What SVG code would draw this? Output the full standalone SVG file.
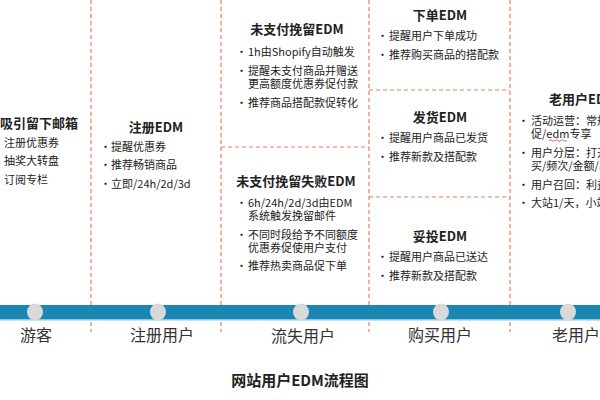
<svg xmlns="http://www.w3.org/2000/svg" width="600" height="400" viewBox="0 0 600 400">
<style>
text{font-family:"Noto Sans CJK SC","Noto Sans",sans-serif;fill:#222}
.h{font-size:13px;font-weight:bold;text-anchor:middle}
.t{font-size:11px}
.lab{font-size:16px;text-anchor:middle;fill:#333}
.d{stroke:#ee7c5e;stroke-width:1.2;stroke-dasharray:4 3;fill:none}
.dot{fill:#d9d9d9}
</style>
<rect width="600" height="400" fill="#fff"/>
<g id="connectors">
<line class="d" x1="91" y1="0" x2="91" y2="332"/>
<line class="d" x1="221" y1="0" x2="221" y2="332"/>
<line class="d" x1="369" y1="0" x2="369" y2="332"/>
<line class="d" x1="510" y1="0" x2="510" y2="332"/>
<line class="d" x1="221" y1="147" x2="369" y2="147"/>
<line class="d" x1="369" y1="90" x2="510" y2="90"/>
<line class="d" x1="369" y1="197" x2="510" y2="197"/>
</g>
<g id="timeline">
<rect x="0" y="305" width="600" height="15" fill="#1b86b1"/>
<rect x="0" y="319" width="600" height="1.5" fill="#8cc8e0"/>
<ellipse class="dot" cx="35" cy="312" rx="8" ry="8.5"/>
<ellipse class="dot" cx="158" cy="312" rx="8" ry="8.5"/>
<ellipse class="dot" cx="301" cy="312" rx="8" ry="8.5"/>
<ellipse class="dot" cx="441" cy="312" rx="8" ry="8.5"/>
<ellipse class="dot" cx="568" cy="312" rx="8" ry="8.5"/>
</g>
<g id="labels">
<text class="lab" x="36" y="341">游客</text>
<text class="lab" x="162" y="341">注册用户</text>
<text class="lab" x="303" y="342">流失用户</text>
<text class="lab" x="440" y="341">购买用户</text>
<text class="lab" x="576" y="341">老用户</text>
</g>
<g id="visitor">
<text class="h" x="39" y="128">吸引留下邮箱</text>
<text class="t" x="4" y="147">注册优惠券</text>
<text class="t" x="4" y="165">抽奖大转盘</text>
<text class="t" x="4" y="184">订阅专栏</text>
</g>
<g id="register-edm">
<text class="h" x="156" y="132">注册EDM</text>
<text class="t" x="100" y="151">•</text><text class="t" x="111" y="151">提醒优惠券</text>
<text class="t" x="100" y="169">•</text><text class="t" x="111" y="169">推荐畅销商品</text>
<text class="t" x="100" y="188">•</text><text class="t" x="111" y="188">立即/24h/2d/3d</text>
</g>
<g id="unpaid-edm">
<text class="h" x="297" y="34">未支付挽留EDM</text>
<text class="t" x="236" y="56">•</text><text class="t" x="248" y="56">1h由Shopify自动触发</text>
<text class="t" x="236" y="75">•</text><text class="t" x="248" y="75">提醒未支付商品并赠送</text>
<text class="t" x="248" y="88">更高额度优惠券促付款</text>
<text class="t" x="236" y="107">•</text><text class="t" x="248" y="107">推荐商品搭配款促转化</text>
</g>
<g id="unpaid-fail-edm">
<text class="h" x="296" y="186">未支付挽留失败EDM</text>
<text class="t" x="236" y="207">•</text><text class="t" x="248" y="207">6h/24h/2d/3d由EDM</text>
<text class="t" x="248" y="220">系统触发挽留邮件</text>
<text class="t" x="236" y="239">•</text><text class="t" x="248" y="239">不同时段给予不同额度</text>
<text class="t" x="248" y="252">优惠券促使用户支付</text>
<text class="t" x="236" y="270">•</text><text class="t" x="248" y="270">推荐热卖商品促下单</text>
</g>
<g id="order-edm">
<text class="h" x="440" y="20">下单EDM</text>
<text class="t" x="377" y="40">•</text><text class="t" x="389" y="40">提醒用户下单成功</text>
<text class="t" x="377" y="59">•</text><text class="t" x="389" y="59">推荐购买商品的搭配款</text>
</g>
<g id="ship-edm">
<text class="h" x="440" y="122">发货EDM</text>
<text class="t" x="377" y="142">•</text><text class="t" x="389" y="142">提醒用户商品已发货</text>
<text class="t" x="377" y="161">•</text><text class="t" x="389" y="161">推荐新款及搭配款</text>
</g>
<g id="deliver-edm">
<text class="h" x="440" y="241">妥投EDM</text>
<text class="t" x="377" y="261">•</text><text class="t" x="389" y="261">提醒用户商品已送达</text>
<text class="t" x="377" y="280">•</text><text class="t" x="389" y="280">推荐新款及搭配款</text>
</g>
<g id="old-user-edm">
<text class="h" x="549" y="104" style="text-anchor:start">老用户EDM</text>
<text class="t" x="518" y="125">•</text><text class="t" x="531" y="125">活动运营：常规活动</text>
<text class="t" x="531" y="138">促/edm专享</text>
<path d="M549 140.5 q1.5 -1.5 3 0 t3 0 t3 0 t3 0 t3 0 t3 0" stroke="#e04040" stroke-width="0.8" fill="none"/>
<text class="t" x="518" y="157">•</text><text class="t" x="531" y="157">用户分层：打开/购</text>
<text class="t" x="531" y="170">买/频次/金额/品类</text>
<text class="t" x="518" y="189">•</text><text class="t" x="531" y="189">用户召回：利益点</text>
<text class="t" x="518" y="207">•</text><text class="t" x="531" y="207">大站1/天，小站</text>
</g>
<g id="title">
<text x="300" y="386" style="font-size:15px;font-weight:bold;text-anchor:middle">网站用户EDM流程图</text>
</g>
</svg>
